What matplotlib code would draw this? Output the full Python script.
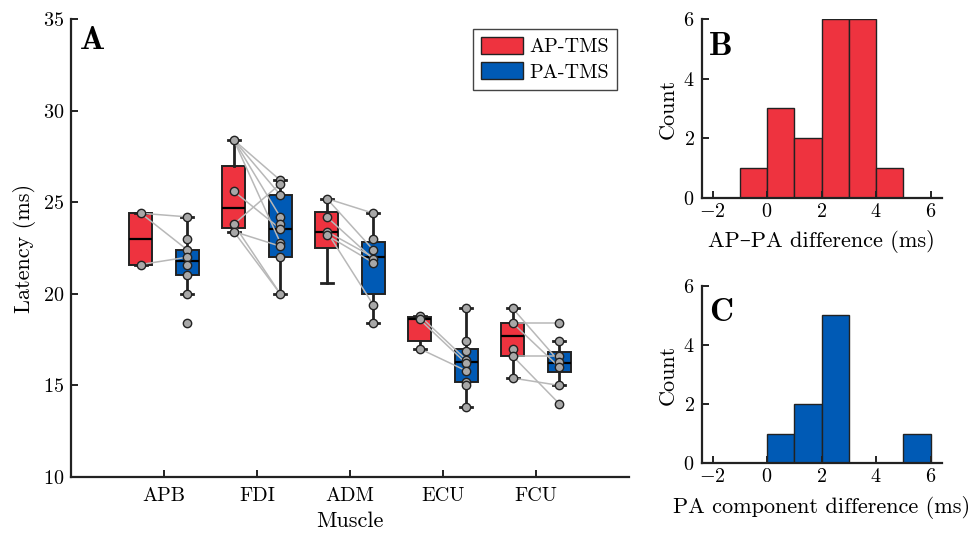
import numpy as np
import matplotlib.pyplot as plt
from matplotlib.patches import Patch

plt.rcParams['font.family'] = ['cmr10', 'DejaVu Serif']
plt.rcParams['mathtext.fontset'] = 'cm'
plt.rcParams['axes.formatter.use_mathtext'] = True
plt.rcParams['axes.unicode_minus'] = True

# -------------------------------
# Data
# -------------------------------
muscles = ['APB', 'FDI', 'ADM', 'ECU', 'FCU']

# box stats: q1, median, q3, whisker low, whisker high
ap_box = [
    [21.6, 23.0, 24.4, 21.6, 24.4],
    [23.6, 24.7, 26.95, 23.4, 28.4],
    [22.5, 23.4, 24.45, 20.6, 25.2],
    [17.4, 18.6, 18.72, 17.0, 18.8],
    [16.6, 17.7, 18.4, 15.4, 19.2],
]
pa_box = [
    [21.0, 21.8, 22.4, 20.0, 24.2],
    [22.0, 23.55, 25.4, 20.0, 26.2],
    [20.0, 22.0, 22.85, 18.4, 24.4],
    [15.2, 16.3, 17.0, 13.8, 19.2],
    [15.75, 16.2, 16.8, 15.0, 17.4],
]

ap_points = [
    [24.4, 21.6],
    [28.4, 25.6, 23.8, 23.4],
    [25.2, 24.2, 23.4, 23.2],
    [18.8, 18.6, 17.0],
    [19.2, 18.4, 17.0, 16.6, 15.4],
]
pa_points = [
    [24.2, 23.0, 22.4, 22.0, 21.6, 21.0, 20.0, 18.4],
    [26.2, 26.0, 25.4, 24.2, 23.8, 23.55, 22.8, 22.6, 22.0, 20.0],
    [24.4, 23.0, 22.4, 21.9, 21.7, 19.4, 18.4],
    [19.2, 17.4, 16.9, 16.4, 16.2, 15.8, 15.2, 15.0, 13.8],
    [18.4, 17.4, 16.6, 16.3, 16.0, 15.0, 14.0],
]

# paired subjects (AP latency, PA latency)
pairs = [
    [(24.4, 24.2), (24.4, 22.4), (21.6, 22.0)],
    [(28.4, 26.2), (28.4, 25.4), (28.4, 24.2), (28.4, 22.8), (25.6, 23.55),
     (23.8, 26.0), (23.4, 22.6), (23.4, 20.0), (23.8, 20.0)],
    [(25.2, 24.4), (25.2, 22.4), (24.2, 21.9), (23.4, 22.0), (23.2, 21.7), (23.4, 19.4)],
    [(18.8, 16.4), (18.6, 16.2), (17.0, 15.8)],
    [(19.2, 16.3), (18.4, 18.4), (18.4, 16.0), (16.6, 16.6), (16.6, 14.0), (15.4, 15.0)],
]

# histograms
bin_left = [-1, 0, 1, 2, 3, 4, 5]
counts_b = [1, 3, 2, 6, 6, 1, 0]
counts_c = [0, 1, 2, 5, 0, 0, 1]

red = '#EE333F'
blue = '#005AB5'
dark = '#222222'
gray_pt = '#A8A8A8'
gray_line = '#B8B8B8'

fig = plt.figure(figsize=(9.74, 5.34), dpi=100)
ax = fig.add_axes([0.0729, 0.1067, 0.5729, 0.8577])
axb = fig.add_axes([0.7204, 0.6298, 0.2464, 0.3341])
axc = fig.add_axes([0.7204, 0.1324, 0.2464, 0.3326])

pos = np.arange(1, len(muscles) + 1)
off = 0.25


def make_stats(rows):
    out = []
    for q1, med, q3, lo, hi in rows:
        out.append(dict(q1=q1, med=med, q3=q3, whislo=lo, whishi=hi, fliers=[]))
    return out


for stats, color, sign in [(make_stats(ap_box), red, -1), (make_stats(pa_box), blue, 1)]:
    ax.bxp(stats, positions=pos + sign * off, widths=0.25, patch_artist=True,
           showfliers=False, capwidths=0.13,
           boxprops=dict(facecolor=color, edgecolor=dark, linewidth=1.4),
           medianprops=dict(color='black', linewidth=1.6),
           whiskerprops=dict(color=dark, linewidth=2.0),
           capprops=dict(color=dark, linewidth=2.0),
           zorder=2)

# paired lines
for i, pp in enumerate(pairs):
    for a, p in pp:
        ax.plot([pos[i] - off, pos[i] + off], [a, p], color=gray_line, lw=1.1, zorder=3)

# points
for i in range(len(muscles)):
    ax.plot(np.full(len(ap_points[i]), pos[i] - off), ap_points[i], 'o', ms=6,
            mfc=gray_pt, mec=dark, mew=1.0, zorder=4)
    ax.plot(np.full(len(pa_points[i]), pos[i] + off), pa_points[i], 'o', ms=6,
            mfc=gray_pt, mec=dark, mew=1.0, zorder=4)

ax.set_xlim(0, 6)
ax.set_ylim(10, 35)
ax.set_xticks(pos)
ax.set_xticklabels(muscles)
ax.set_yticks([10, 15, 20, 25, 30, 35])
ax.tick_params(axis='x', pad=7)
ax.set_xlabel('Muscle', fontsize=16, labelpad=5)
ax.set_ylabel('Latency (ms)', fontsize=16, labelpad=5)
ax.text(0.016, 0.985, 'A', transform=ax.transAxes, fontsize=24, fontfamily='cmb10',
        va='top', ha='left')

leg = ax.legend(handles=[Patch(facecolor=red, edgecolor=dark, label='AP-TMS'),
                         Patch(facecolor=blue, edgecolor=dark, label='PA-TMS')],
                loc='upper right', bbox_to_anchor=(0.978, 0.978), fontsize=14.5,
                fancybox=False, framealpha=1, edgecolor='#444444',
                handlelength=2.1, handleheight=0.9, handletextpad=0.3,
                borderpad=0.4, labelspacing=0.3, borderaxespad=0)
leg.get_frame().set_linewidth(1.0)

for a, counts, color, letter, xlabel in [
        (axb, counts_b, red, 'B', 'AP–PA difference (ms)'),
        (axc, counts_c, blue, 'C', 'PA component difference (ms)')]:
    a.bar(bin_left, counts, width=1, align='edge', color=color, edgecolor=dark, linewidth=1.0)
    a.set_xlim(-2.4, 6.4)
    a.set_ylim(0, 6)
    a.set_xticks([-2, 0, 2, 4, 6])
    a.set_yticks([0, 2, 4, 6])
    a.set_xlabel(xlabel, fontsize=16, labelpad=7)
    a.set_ylabel('Count', fontsize=16, labelpad=4)
    a.text(0.03, 0.93, letter, transform=a.transAxes, fontsize=24, fontfamily='cmb10',
           va='top', ha='left')

for a in (ax, axb, axc):
    a.spines['top'].set_visible(False)
    a.spines['right'].set_visible(False)
    for s in ('left', 'bottom'):
        a.spines[s].set_linewidth(1.6)
        a.spines[s].set_color(dark)
    a.tick_params(direction='in', length=5, width=1.4, color=dark, labelsize=14.5)
    a.tick_params(axis='y', pad=5)

fig.savefig('out.png', dpi=100)
